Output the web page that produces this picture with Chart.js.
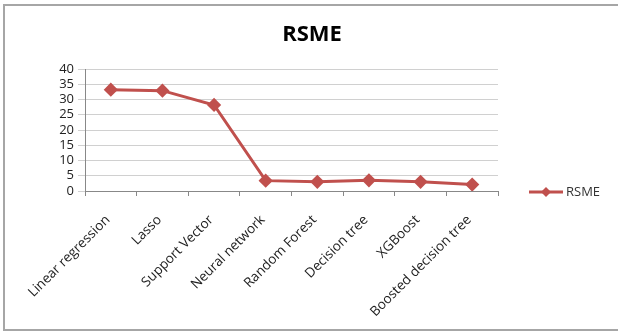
<!DOCTYPE html>
<html lang="en">
<head>
    <meta charset="UTF-8">
    <title>RSME</title>
    <script src="https://cdn.jsdelivr.net/npm/chart.js"></script>
    <style>
        body { margin: 0; background: #fff; font-family: 'Open Sans', sans-serif; overflow: hidden; }
        #wrap { position: relative; width: 618px; height: 334px; overflow: hidden; }
        #frame {
            position: absolute; left: 3px; top: 4px; width: 620px; height: 323px;
            border-left: 2px solid #a6a6a6; border-top: 2px solid #a6a6a6; border-bottom: 2px solid #a6a6a6;
            pointer-events: none;
        }
    </style>
</head>
<body>
    <div id="wrap">
        <canvas id="chart" width="618" height="334"></canvas>
        <div id="frame"></div>
    </div>

    <script>
        const categories = ['Linear regression', 'Lasso', 'Support Vector', 'Neural network',
            'Random Forest', 'Decision tree', 'XGBoost', 'Boosted decision tree'];
        const rsme = [33.2, 32.9, 28.2, 3.4, 3.0, 3.5, 3.0, 2.1];
        const yTicks = [0, 5, 10, 15, 20, 25, 30, 35, 40];
        const chartTitle = 'RSME';

        const lineColor = '#c0504d';

        // title centred on the whole frame, legend to the right of the plot
        const decorations = {
            id: 'decorations',
            afterDraw(chart) {
                const ctx = chart.ctx;
                const ds = chart.data.datasets[0];
                ctx.save();
                ctx.fillStyle = '#000';
                ctx.font = "bold 22px 'Open Sans'";
                ctx.textAlign = 'center';
                ctx.textBaseline = 'middle';
                ctx.fillText(chartTitle, 312, 35);

                const y = 192;
                ctx.strokeStyle = lineColor;
                ctx.lineWidth = 3;
                ctx.beginPath();
                ctx.moveTo(529, y);
                ctx.lineTo(563, y);
                ctx.stroke();
                ctx.fillStyle = lineColor;
                ctx.beginPath();
                ctx.moveTo(546, y - 5);
                ctx.lineTo(551, y);
                ctx.lineTo(546, y + 5);
                ctx.lineTo(541, y);
                ctx.closePath();
                ctx.fill();
                ctx.fillStyle = '#333';
                ctx.font = "13px 'Open Sans'";
                ctx.textAlign = 'left';
                ctx.fillText(ds.label, 566, y);
                ctx.restore();
            }
        };

        new Chart(document.getElementById('chart'), {
            type: 'line',
            data: {
                labels: categories,
                datasets: [{
                    label: 'RSME',
                    data: rsme,
                    borderColor: lineColor,
                    backgroundColor: lineColor,
                    borderWidth: 3,
                    pointStyle: 'rectRot',
                    pointRadius: 5,
                    pointHoverRadius: 5,
                    tension: 0
                }]
            },
            options: {
                responsive: false,
                animation: false,
                layout: { padding: { left: 10, right: 120, top: 69, bottom: 4 } },
                plugins: {
                    legend: { display: false },
                    tooltip: { enabled: false },
                    title: { display: false }
                },
                scales: {
                    x: {
                        offset: true,
                        grid: { display: true, offset: true, drawOnChartArea: false, color: '#888', tickLength: 5 },
                        border: { color: '#888' },
                        ticks: {
                            color: '#222',
                            font: { family: 'Open Sans', size: 13.5 },
                            maxRotation: 45, minRotation: 45,
                            autoSkip: false,
                            labelOffset: -3,
                            padding: 16
                        },
                        afterFit(scale) { scale.height = 139; }
                    },
                    y: {
                        min: 0, max: 40,
                        afterBuildTicks(scale) { scale.ticks = yTicks.map(v => ({ value: v })); },
                        grid: { color: '#d0d0d0', tickLength: 7 },
                        border: { color: '#888' },
                        ticks: {
                            color: '#222',
                            font: { family: 'Open Sans', size: 13 },
                            autoSkip: false,
                            padding: 4
                        },
                        afterFit(scale) { scale.width = 75; }
                    }
                }
            },
            plugins: [decorations]
        });
    </script>
</body>
</html>
